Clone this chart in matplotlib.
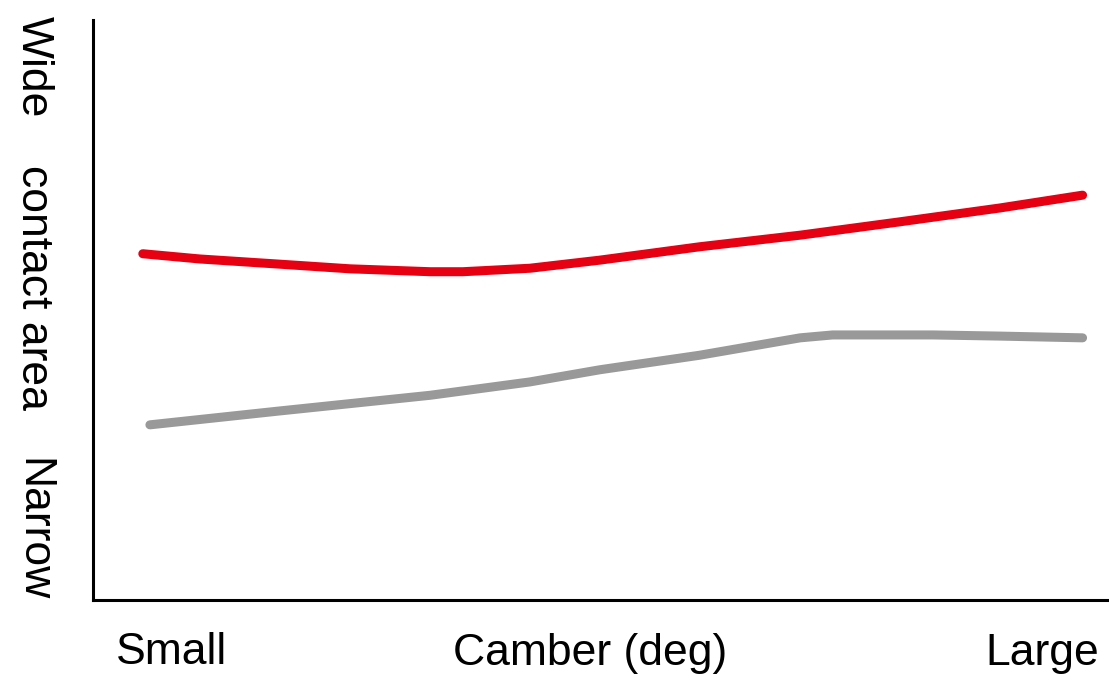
import matplotlib
matplotlib.use("Agg")
import matplotlib.pyplot as plt

# Data (abstract units: x 0..100 across axis, y 0..100 up axis)
red_x = [4.9, 10.5, 18.4, 25.3, 33.2, 36.4, 43.0, 49.9, 59.7, 69.6, 79.4, 89.3, 97.4]
red_y = [59.7, 58.8, 57.9, 57.1, 56.6, 56.6, 57.2, 58.6, 60.9, 62.9, 65.2, 67.6, 69.8]
grey_x = [5.6, 18.4, 33.2, 43.0, 49.9, 59.7, 69.6, 72.8, 82.7, 89.3, 97.4]
grey_y = [30.2, 32.6, 35.3, 37.6, 39.7, 42.2, 45.2, 45.7, 45.7, 45.5, 45.2]

x_labels = ["Small", "Camber (deg)", "Large"]
y_labels = ["Wide", "contact area", "Narrow"]

W, H = 1109, 683
fig = plt.figure(figsize=(W/100, H/100), dpi=100)
ax = fig.add_axes([93/W, (H-600)/H, (W-93)/W, (600-20)/H])
ax.plot(red_x, red_y, color="#e60012", lw=6.5, solid_capstyle="round", solid_joinstyle="round")
ax.plot(grey_x, grey_y, color="#999999", lw=6.5, solid_capstyle="round", solid_joinstyle="round")
ax.set_xlim(0, 100)
ax.set_ylim(0, 100)
for s in ["top", "right"]:
    ax.spines[s].set_visible(False)
for s in ["left", "bottom"]:
    ax.spines[s].set_linewidth(2.2)
    ax.spines[s].set_color("black")
ax.set_xticks([])
ax.set_yticks([])

fs = 32
fam = ["Liberation Sans", "DejaVu Sans"]
for lab, px in zip(x_labels, [172, 590, 1042]):
    fig.text(px/W, 1-653/H, lab, ha="center", va="center", fontsize=fs, family=fam)
for lab, py in zip(y_labels, [67, 287, 530]):
    fig.text(33/W, 1-py/H, lab, ha="center", va="center", rotation=-90, fontsize=fs, family=fam)

fig.savefig("out.png", dpi=100)
